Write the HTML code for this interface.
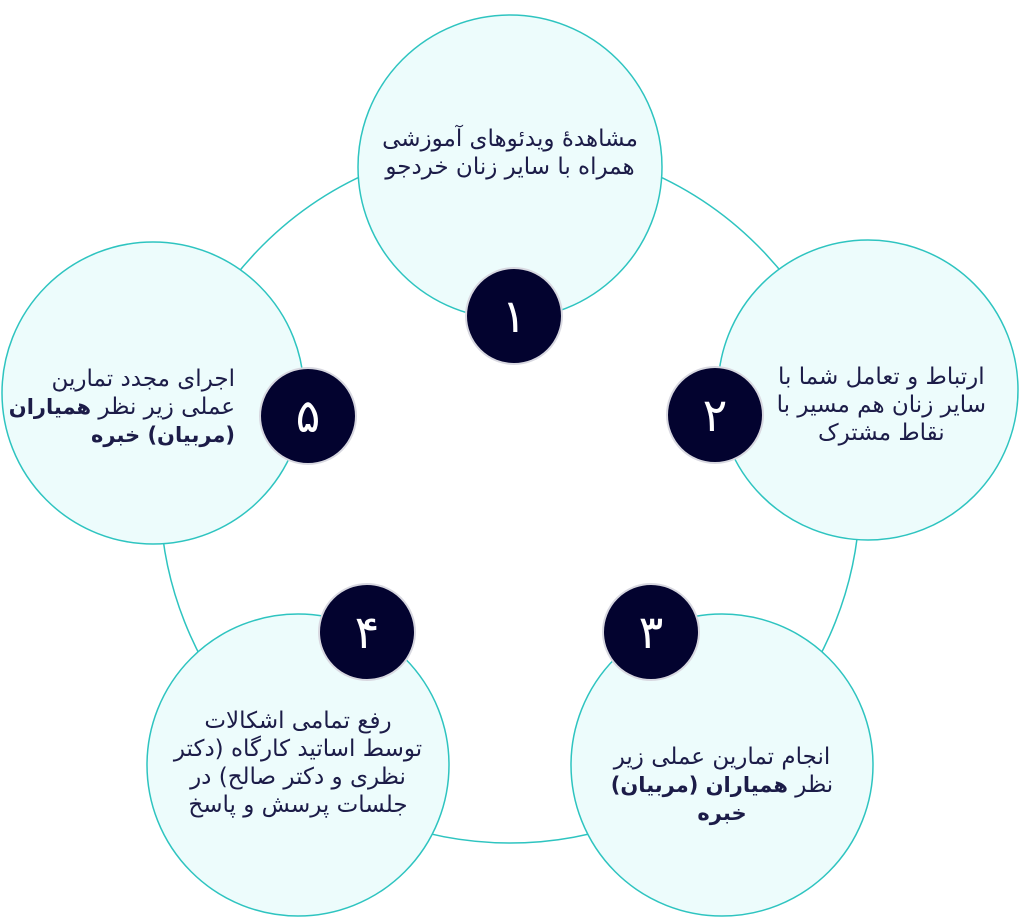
<!DOCTYPE html>
<html><head><meta charset="utf-8"><style>
body{margin:0;width:1024px;height:919px;background:#fff;position:relative;overflow:hidden;font-family:"DejaVu Sans","Liberation Sans",sans-serif;}
svg{position:absolute;left:0;top:0}
.t{position:absolute;direction:rtl;color:#1c1c48;font-size:23px;line-height:28px;white-space:nowrap}
.t b{font-weight:bold;font-size:21px}
</style></head><body>
<svg width="1024" height="919">
<circle cx="510" cy="493" r="350" fill="none" stroke="#2ec4c0" stroke-width="1.5"/>
<g fill="#edfcfc" stroke="#2ec4c0" stroke-width="1.5">
<circle cx="510" cy="167" r="152"/>
<circle cx="868" cy="390" r="150"/>
<circle cx="722" cy="765" r="151"/>
<circle cx="298" cy="765" r="151"/>
<circle cx="153" cy="393" r="151"/>
</g>
<g fill="#03032f" stroke="#d8d8e0" stroke-width="2">
<circle cx="514" cy="316" r="48"/>
<circle cx="715" cy="415" r="48"/>
<circle cx="651" cy="632" r="48"/>
<circle cx="367" cy="632" r="48"/>
<circle cx="308" cy="416" r="48"/>
</g>
<g fill="#fff" font-family="DejaVu Sans, sans-serif" font-size="46" text-anchor="middle">
<text x="514" y="332">۱</text>
<text x="715" y="431">۲</text>
<text x="651" y="648">۳</text>
<text x="367" y="648">۴</text>
<text x="308" y="432">۵</text>
</g>
</svg>
<div class="t" style="left:360px;width:300px;top:125px;text-align:center">مشاهدهٔ ویدئوهای آموزشی<br>همراه با سایر زنان خردجو</div>
<div class="t" style="right:38px;top:363px;text-align:center">ارتباط و تعامل شما با<br>سایر زنان هم مسیر با<br>نقاط مشترک</div>
<div class="t" style="left:572px;width:300px;top:743px;text-align:center">انجام تمارین عملی زیر<br>نظر <b>همیاران (مربیان)</b><br><b>خبره</b></div>
<div class="t" style="left:148px;width:300px;top:707px;text-align:center">رفع تمامی اشکالات<br>توسط اساتید کارگاه (دکتر<br>نظری و دکتر صالح) در<br>جلسات پرسش و پاسخ</div>
<div class="t" style="right:789px;top:365px;text-align:right">اجرای مجدد تمارین<br>عملی زیر نظر <b>همیاران</b><br><b>(مربیان) خبره</b></div>
</body></html>
